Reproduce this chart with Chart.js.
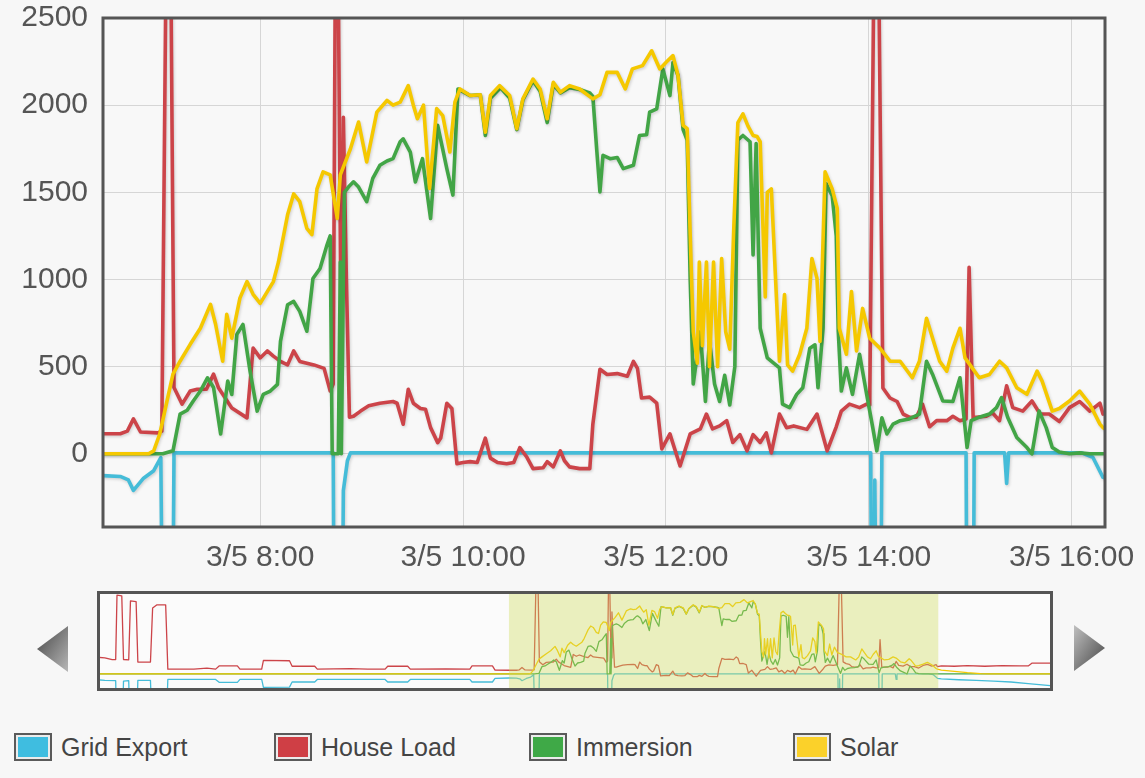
<!DOCTYPE html>
<html><head><meta charset="utf-8">
<script src="https://cdn.jsdelivr.net/npm/chart.js@4.4.1/dist/chart.umd.min.js"></script>
<style>
html,body{margin:0;padding:0;background:#f7f7f7;width:1145px;height:778px;overflow:hidden;font-family:"Liberation Sans",Arial,sans-serif;}
#main{position:absolute;left:0;top:0;}
#nav{position:absolute;left:97px;top:591px;}
.arrow{position:absolute;}
.legend{position:absolute;top:732px;height:30px;display:flex;align-items:center;}
.sw{width:34px;height:24px;border:2px solid #5a5a5a;box-shadow:inset 0 0 0 2px #ececec;}
.lt{margin-left:9px;font-size:25px;color:#444;}
</style></head>
<body>
<canvas id="main" width="1145" height="590"></canvas>
<canvas id="nav" width="956" height="100"></canvas>
<svg class="arrow" style="left:36px;top:626px" width="34" height="46">
 <defs><linearGradient id="gl" x1="0" y1="0" x2="1" y2="1"><stop offset="0" stop-color="#444"/><stop offset="1" stop-color="#b8b8b8"/></linearGradient></defs>
 <polygon points="1,23 32,0 32,46" fill="url(#gl)"/>
</svg>
<svg class="arrow" style="left:1073px;top:625px" width="34" height="46">
 <defs><linearGradient id="gr" x1="0" y1="0" x2="1" y2="1"><stop offset="0" stop-color="#c0c0c0"/><stop offset="1" stop-color="#444"/></linearGradient></defs>
 <polygon points="1,0 32,23 1,46" fill="url(#gr)"/>
</svg>
<div id="legendBox"></div>
<script>
// ---------- DATA (time in hours relative to 3/5 00:00, values in W) ----------
const seriesNames = ['Grid Export', 'House Load', 'Immersion', 'Solar'];
const xTickHours = [8, 10, 12, 14, 16];
const xTickLabels = ['3/5 8:00', '3/5 10:00', '3/5 12:00', '3/5 14:00', '3/5 16:00'];
const yTickValues = [0, 500, 1000, 1500, 2000, 2500];

const gridExport = [[-3.03,-180],[-2.85,-200],[-2.60,-210],[-2.57,-2400],[-2.46,-2400],[-2.42,-220],[-2.30,-210],[-2.26,-2300],[-2.13,-2300],[-2.09,-200],[-1.80,-200],[-1.75,-2100],[-1.45,-2100],[-1.40,-170],[-0.30,-170],[-0.22,-260],[0.20,-260],[0.26,-170],[0.76,-170],[0.80,-420],[1.40,-410],[1.46,-250],[1.98,-250],[2.04,-170],[3.60,-170],[3.66,-250],[4.12,-250],[4.18,-170],[5.55,-170],[5.60,-250],[6.07,-250],[6.13,-140],
[6.45,-125],[6.62,-130],[6.70,-150],[6.75,-210],[6.85,-140],[6.95,-97],[7.02,-22],[7.06,-2500],[7.12,-2500],[7.15,5],[8.72,5],[8.74,-2500],[8.79,-2500],[8.82,-210],[8.86,-40],[8.89,5],[14.02,5],[14.04,-2500],[14.06,-150],[14.10,-2500],[14.13,5],[14.96,5],[14.98,-2500],[15.02,-2500],[15.04,5],[15.34,5],[15.36,-170],[15.38,5],[16.10,5],[16.21,-20],[16.31,-135],
[16.40,-150],[16.80,-180],[17.20,-200],[17.60,-220],[18.00,-250],[18.40,-300],[18.97,-370]];

const houseLoad = [[-3.03,520],[-2.85,500],[-2.68,445],[-2.60,450],[-2.57,2450],[-2.46,2430],[-2.42,450],[-2.30,440],[-2.26,2270],[-2.13,2250],[-2.09,370],[-1.80,370],[-1.75,2050],[-1.65,2150],[-1.45,2150],[-1.40,150],[-0.80,150],[-0.50,180],[-0.30,150],[-0.22,250],[0.20,250],[0.26,150],[0.76,150],[0.80,420],[1.40,410],[1.46,240],[1.98,240],[2.04,150],[2.80,165],[3.20,150],[3.60,150],[3.66,240],[4.12,240],[4.18,150],[5.00,160],[5.55,150],[5.60,250],[6.07,250],[6.13,120],
[6.45,115],[6.62,115],[6.69,130],[6.75,200],[6.82,125],[6.99,120],[7.03,130],[7.07,2700],[7.12,2700],[7.15,380],[7.23,285],[7.31,360],[7.38,370],[7.47,370],[7.54,457],[7.59,377],[7.72,263],[7.87,206],[7.93,606],[8.00,550],[8.07,590],[8.13,560],[8.20,530],[8.27,510],[8.33,590],[8.39,530],[8.53,510],[8.63,490],[8.69,360],[8.72,400],[8.74,2700],[8.77,2700],[8.80,500],[8.82,1930],[8.85,1000],[8.88,210],[8.92,215],[8.99,245],[9.07,275],[9.18,290],[9.31,300],[9.35,290],[9.41,170],[9.46,370],[9.51,290],[9.58,260],[9.63,255],[9.68,150],[9.75,64],[9.78,90],[9.84,290],[9.89,260],[9.94,-57],[10.00,-50],[10.07,-45],[10.14,-50],[10.22,90],[10.27,-25],[10.34,-50],[10.43,-57],[10.50,-50],[10.56,35],[10.63,-20],[10.69,-85],[10.79,-80],[10.83,-45],[10.89,-75],[10.96,17],[11.00,-40],[11.05,-75],[11.15,-85],[11.25,-85],[11.28,170],[11.35,485],[11.42,455],[11.52,460],[11.62,445],[11.68,530],[11.72,490],[11.76,320],[11.84,325],[11.91,290],[11.96,28],[12.04,114],[12.14,-70],[12.24,114],[12.34,143],[12.40,228],[12.46,143],[12.53,160],[12.60,190],[12.66,65],[12.73,110],[12.80,17],[12.86,110],[12.93,65],[12.99,120],[13.04,5],[13.12,228],[13.19,150],[13.26,160],[13.39,140],[13.49,228],[13.59,17],[13.68,155],[13.73,245],[13.81,285],[13.91,265],[13.98,285],[14.01,280],[14.05,2700],[14.10,2700],[14.14,377],[14.21,320],[14.28,300],[14.34,228],[14.40,210],[14.47,210],[14.53,285],[14.60,155],[14.67,190],[14.77,190],[14.83,215],[14.90,190],[14.96,200],[14.99,1070],[15.03,200],[15.06,210],[15.16,215],[15.22,235],[15.29,190],[15.36,390],[15.42,265],[15.52,245],[15.61,303],[15.69,228],[15.78,228],[15.88,185],[15.98,265],[16.08,300],[16.18,245],[16.28,290],[16.31,228],
[16.40,250],[16.70,240],[17.00,260],[17.40,240],[17.80,260],[18.20,250],[18.40,250],[18.49,340],[18.97,340]];

const immersion = [[-3.03,0],[6.13,0],[6.45,0],[7.04,0],[7.14,17],[7.21,228],[7.28,250],[7.34,303],[7.41,360],[7.48,436],[7.54,380],[7.61,114],[7.68,417],[7.72,340],[7.77,685],[7.83,742],[7.90,474],[7.97,245],[8.03,341],[8.10,360],[8.17,398],[8.20,645],[8.27,855],[8.33,874],[8.39,817],[8.46,703],[8.52,1006],[8.59,1063],[8.66,1200],[8.69,1250],[8.71,0],[8.77,0],[8.79,1100],[8.80,0],[8.83,1500],[8.87,1530],[8.92,1560],[8.97,1530],[9.05,1446],[9.11,1580],[9.18,1655],[9.25,1680],[9.31,1693],[9.38,1790],[9.41,1807],[9.48,1731],[9.53,1560],[9.60,1693],[9.68,1350],[9.75,1884],[9.84,1636],[9.90,1484],[9.95,2093],[10.07,2055],[10.17,2060],[10.22,1826],[10.27,2040],[10.37,2100],[10.46,2040],[10.53,1860],[10.59,2030],[10.69,2140],[10.76,2080],[10.83,1900],[10.89,2120],[10.96,2070],[11.05,2100],[11.15,2090],[11.25,2070],[11.28,2050],[11.32,1731],[11.35,1502],[11.38,1712],[11.45,1693],[11.52,1700],[11.58,1636],[11.68,1655],[11.74,1826],[11.81,1830],[11.84,1960],[11.91,1979],[11.97,2208],[12.04,2055],[12.07,2245],[12.12,2170],[12.17,1860],[12.21,1800],[12.24,1000],[12.27,400],[12.34,700],[12.39,300],[12.43,650],[12.48,400],[12.53,300],[12.58,450],[12.63,280],[12.68,500],[12.71,1800],[12.76,1826],[12.83,1790],[12.86,1140],[12.89,1780],[12.93,720],[13.00,550],[13.12,493],[13.15,285],[13.22,265],[13.29,341],[13.35,379],[13.42,606],[13.47,625],[13.50,379],[13.55,720],[13.58,1550],[13.64,1480],[13.68,1250],[13.70,700],[13.73,360],[13.78,493],[13.84,341],[13.91,571],[13.98,341],[14.04,150],[14.08,17],[14.13,206],[14.18,114],[14.24,170],[14.31,190],[14.40,200],[14.50,228],[14.57,531],[14.63,455],[14.73,303],[14.83,300],[14.90,436],[14.97,36],[15.01,190],[15.09,210],[15.19,228],[15.26,265],[15.31,322],[15.37,210],[15.46,93],[15.56,36],[15.61,0],[15.68,245],[15.75,150],[15.81,36],[15.88,10],[15.98,0],[16.08,5],[16.18,0],[16.31,0],[18.97,0]];

const solar = [[-3.03,0],[6.13,0],[6.45,0],[6.90,0],[6.95,17],[7.01,114],[7.08,300],[7.14,457],[7.21,531],[7.31,628],[7.41,720],[7.51,857],[7.56,743],[7.63,531],[7.67,800],[7.72,663],[7.80,893],[7.87,988],[7.93,915],[8.00,863],[8.07,930],[8.13,988],[8.18,1100],[8.23,1250],[8.27,1371],[8.33,1491],[8.39,1446],[8.46,1293],[8.51,1257],[8.56,1520],[8.62,1617],[8.69,1600],[8.76,1350],[8.79,1600],[8.89,1750],[8.97,1903],[9.05,1674],[9.15,1960],[9.25,2027],[9.31,2000],[9.38,2017],[9.46,2112],[9.51,2000],[9.55,1922],[9.61,2000],[9.67,1522],[9.74,1980],[9.80,1940],[9.87,1731],[9.92,2017],[9.97,2093],[10.07,2055],[10.17,2060],[10.22,1845],[10.27,2055],[10.36,2112],[10.46,2055],[10.53,1865],[10.59,2036],[10.69,2150],[10.76,2093],[10.83,1922],[10.89,2131],[10.96,2074],[11.05,2112],[11.15,2093],[11.28,2036],[11.35,2060],[11.42,2188],[11.52,2188],[11.60,2093],[11.67,2208],[11.77,2227],[11.86,2312],[11.94,2208],[12.01,2250],[12.07,2284],[12.12,2170],[12.17,1884],[12.21,1865],[12.24,1255],[12.27,700],[12.31,520],[12.33,1100],[12.36,620],[12.40,1100],[12.43,500],[12.47,1100],[12.51,500],[12.55,1120],[12.59,700],[12.63,600],[12.67,1300],[12.71,1900],[12.76,1950],[12.81,1880],[12.86,1826],[12.90,1820],[12.93,1790],[12.98,900],[13.00,1500],[13.04,1520],[13.09,900],[13.12,531],[13.17,914],[13.20,510],[13.25,474],[13.32,571],[13.39,720],[13.44,1120],[13.49,1006],[13.52,645],[13.57,1617],[13.64,1520],[13.69,1407],[13.71,720],[13.78,571],[13.83,931],[13.88,590],[13.94,834],[14.01,663],[14.11,606],[14.21,531],[14.31,531],[14.43,436],[14.50,531],[14.57,777],[14.63,663],[14.70,531],[14.77,474],[14.83,606],[14.90,720],[14.95,550],[15.02,493],[15.09,436],[15.19,455],[15.29,531],[15.36,493],[15.46,379],[15.56,341],[15.66,474],[15.71,417],[15.81,245],[15.88,260],[15.98,303],[16.08,360],[16.18,285],[16.28,170],[16.31,150],[16.40,120],[16.70,80],[17.00,40],[17.30,10],[17.50,0],[18.97,0]];

// ---------- view ranges ----------
const viewStart = 6.45, viewEnd = 16.33;
const navStart = -3.03, navEnd = 18.97;

const lineColors = ['#45bcd8', '#cc4449', '#42a546', '#f5c800'];
const swatchColors = ['#3fbde0', '#cf3f45', '#3fa947', '#fbd12a'];
const drawOrder = [4, 3, 2, 1];
const seriesData = [gridExport, houseLoad, immersion, solar];

function makeDatasets(width) {
  return seriesData.map((arr, i) => ({
    label: seriesNames[i],
    data: arr.map(p => ({x: p[0], y: p[1]})),
    borderColor: lineColors[i],
    borderWidth: width,
    pointRadius: 0,
    tension: 0,
    fill: false,
    order: drawOrder[i],
    borderJoinStyle: 'round',
    borderCapStyle: 'round'
  }));
}

const frame = {
  id: 'frame',
  beforeDraw(chart) {
    const {ctx, chartArea: a} = chart;
    ctx.save(); ctx.fillStyle = '#f8f8f8';
    ctx.fillRect(a.left, a.top, a.right - a.left, a.bottom - a.top); ctx.restore();
  },
  beforeDatasetsDraw(chart) {
    const ctx = chart.ctx;
    ctx.save();
    ctx.shadowColor = 'rgba(0,0,0,0.16)';
    ctx.shadowBlur = 3;
    ctx.shadowOffsetX = 1;
    ctx.shadowOffsetY = 1.5;
  },
  afterDatasetsDraw(chart) {
    const {ctx, chartArea: a} = chart;
    ctx.restore();
    ctx.save(); ctx.strokeStyle = '#555'; ctx.lineWidth = 3;
    ctx.strokeRect(a.left, a.top, a.right - a.left, a.bottom - a.top); ctx.restore();
  }
};

new Chart(document.getElementById('main'), {
  type: 'line',
  data: {datasets: makeDatasets(3.6)},
  options: {
    responsive: false, animation: false, devicePixelRatio: 1, events: [],
    layout: {padding: {top: 18, right: 40, left: 0, bottom: 0}},
    plugins: {legend: {display: false}, tooltip: {enabled: false}},
    scales: {
      x: {
        type: 'linear', min: viewStart, max: viewEnd,
        afterBuildTicks: s => { s.ticks = xTickHours.map(v => ({value: v})); },
        afterFit: s => { s.height = 63; s.paddingLeft = 0; s.paddingRight = 0; },
        ticks: {
          callback: (v) => { const i = xTickHours.indexOf(v); return i >= 0 ? xTickLabels[i] : ''; },
          font: {family: 'Liberation Sans', size: 30}, color: '#555', padding: 13,
          maxRotation: 0, autoSkip: false
        },
        grid: {color: '#d6d6d6', drawTicks: false, lineWidth: 1},
        border: {display: false}
      },
      y: {
        type: 'linear', min: -420, max: 2500,
        afterBuildTicks: s => { s.ticks = yTickValues.map(v => ({value: v})); },
        afterFit: s => { s.width = 103; s.paddingTop = 0; s.paddingBottom = 0; },
        ticks: {
          callback: (v) => String(v),
          font: {family: 'Liberation Sans', size: 30}, color: '#555', padding: 15
        },
        grid: {color: '#d6d6d6', drawTicks: false, lineWidth: 1},
        border: {display: false}
      }
    }
  },
  plugins: [frame]
});

const navOverlay = {
  id: 'navOverlay',
  beforeDraw(chart) {
    const {ctx} = chart;
    ctx.save(); ctx.fillStyle = '#fbfbfb'; ctx.fillRect(0, 0, chart.width, chart.height); ctx.restore();
  },
  afterDatasetsDraw(chart) {
    const {ctx} = chart; const xs = chart.scales.x;
    const l = xs.getPixelForValue(viewStart), r = xs.getPixelForValue(viewEnd);
    ctx.save();
    ctx.fillStyle = 'rgba(208,222,92,0.38)';
    ctx.fillRect(l, 0, r - l, chart.height);
    ctx.strokeStyle = '#555'; ctx.lineWidth = 3;
    ctx.strokeRect(1.5, 1.5, chart.width - 3, chart.height - 3);
    ctx.restore();
  }
};

new Chart(document.getElementById('nav'), {
  type: 'line',
  data: {datasets: makeDatasets(1.3)},
  options: {
    responsive: false, animation: false, devicePixelRatio: 1, events: [],
    layout: {padding: 0},
    plugins: {legend: {display: false}, tooltip: {enabled: false}},
    scales: {
      x: {type: 'linear', display: false, min: navStart, max: navEnd},
      y: {type: 'linear', display: false, min: -530, max: 2580}
    }
  },
  plugins: [navOverlay]
});

// ---------- legend ----------
const legendLefts = [14, 274, 529, 793];
const lb = document.getElementById('legendBox');
seriesNames.forEach((n, i) => {
  const d = document.createElement('div');
  d.className = 'legend'; d.style.left = legendLefts[i] + 'px';
  d.innerHTML = '<div class="sw" style="background:' + swatchColors[i] + '"></div><span class="lt">' + n + '</span>';
  lb.appendChild(d);
});
</script>
</body></html>
